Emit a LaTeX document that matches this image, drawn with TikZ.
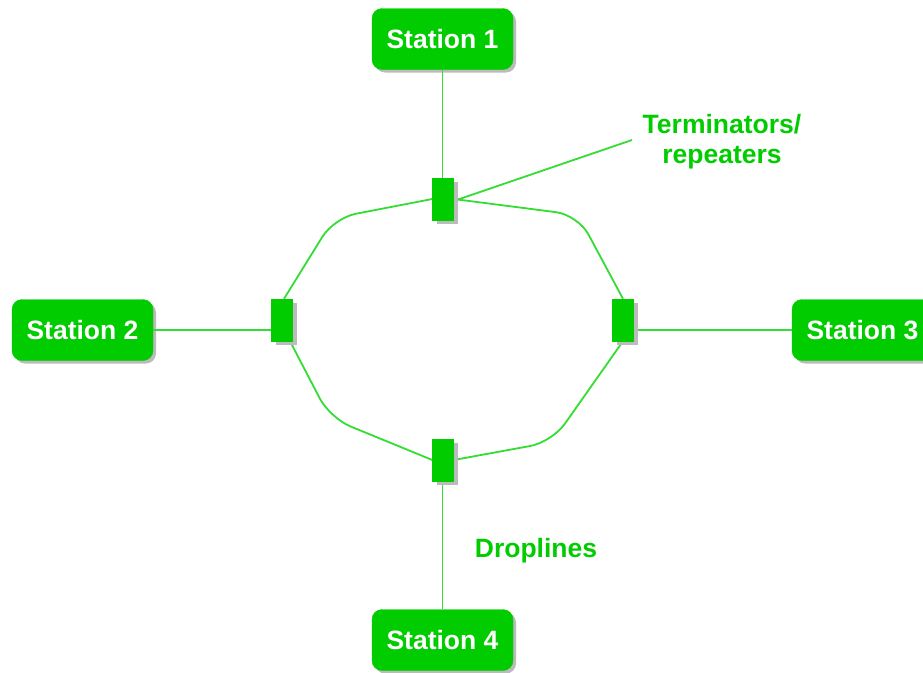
\documentclass[tikz,border=0pt]{standalone}
\usepackage{fontspec}
\setmainfont{Liberation Sans}
\usetikzlibrary{shadows}
\definecolor{boxgreen}{HTML}{00CC00}
\definecolor{linegreen}{HTML}{33DD33}
\definecolor{shadowgray}{HTML}{BBBBBB}
\begin{document}
\begin{tikzpicture}[x=1pt,y=-1pt,
  station/.style={draw=boxgreen,fill=boxgreen,rounded corners=10pt,minimum width=141pt,minimum height=61pt,
    text=white,font=\fontsize{26.5}{30}\selectfont\bfseries,inner sep=0pt,
    drop shadow={shadow xshift=3pt,shadow yshift=-3pt,fill=shadowgray,opacity=1}},
  term/.style={draw=boxgreen,fill=boxgreen,minimum width=21pt,minimum height=42pt,inner sep=0pt,
    drop shadow={shadow xshift=4pt,shadow yshift=-4pt,fill=shadowgray,opacity=1}},
  wire/.style={draw=linegreen,line width=1.8pt},
  lbl/.style={text=boxgreen,font=\fontsize{26.5}{30}\selectfont\bfseries,align=center,inner sep=0pt}]
\useasboundingbox (0,0) rectangle (923,672);
% ring corners
\coordinate (c1) at (578,215);
\coordinate (c2) at (552,442);
\coordinate (c3) at (330,418);
\coordinate (c4) at (334,218);
% terminators
\node[term] (t1) at (443,199) {};
\node[term] (t2) at (282,320) {};
\node[term] (t3) at (623,320) {};
\node[term] (t4) at (443,460) {};
% stations
\node[station] (s1) at (442.5,39) {Station 1};
\node[station] (s2) at (82.5,330) {Station 2};
\node[station] (s3) at (862.5,330) {Station 3};
\node[station] (s4) at (442.5,640) {Station 4};
% labels
\node[lbl] (lt) at (722,142) {Terminators/\\repeaters};
\node[lbl] (ld) at (536,551) {Droplines};
\coordinate (lineend) at (632,140);
% ring wires
\draw[wire,rounded corners=22pt] (t1.east) -- (c1) -- (t3.north);
\draw[wire,rounded corners=22pt] (t3.south) -- (c2) -- (t4.east);
\draw[wire,rounded corners=22pt] (t4.west) -- (c3) -- ([xshift=8pt]t2.south);
\draw[wire,rounded corners=22pt] ([xshift=2pt]t2.north) -- (c4) -- (t1.west);
% droplines
\draw[wire] (s1.south) -- (s1.south |- t1.north);
\draw[wire] (s4.north) -- (s4.north |- t4.south);
\draw[wire] (s2.east) -- (s2.east -| t2.west);
\draw[wire] (s3.west) -- (s3.west -| t3.east);
% label pointer
\draw[wire] ([yshift=-2pt]t1.east) -- (lineend);
% terminators on top of wires
\node[term] at (t1) {};
\node[term] at (t2) {};
\node[term] at (t3) {};
\node[term] at (t4) {};
\end{tikzpicture}
\end{document}
